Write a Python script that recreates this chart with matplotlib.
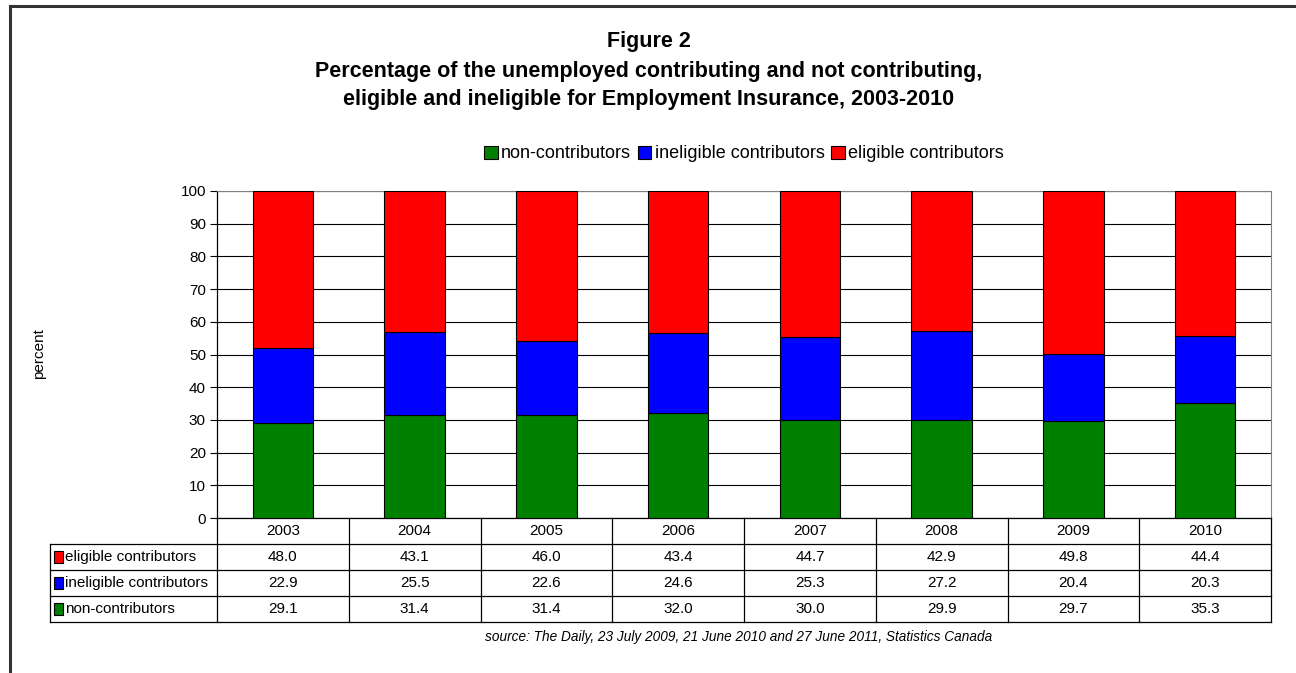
import numpy as np
import matplotlib.pyplot as plt
from matplotlib.patches import Patch
from matplotlib.lines import Line2D

plt.rcParams['font.family'] = ['Liberation Sans', 'DejaVu Sans']

# figure 2 data (percent of unemployed)
years = ['2003', '2004', '2005', '2006', '2007', '2008', '2009', '2010']
eligible = [48.0, 43.1, 46.0, 43.4, 44.7, 42.9, 49.8, 44.4]
ineligible = [22.9, 25.5, 22.6, 24.6, 25.3, 27.2, 20.4, 20.3]
non_contrib = [29.1, 31.4, 31.4, 32.0, 30.0, 29.9, 29.7, 35.3]

series_names = ['non-contributors', 'ineligible contributors', 'eligible contributors']
colors = ['#008000', '#0000FF', '#FF0000']

W, H = 1296, 673
fig = plt.figure(figsize=(W / 100, H / 100), dpi=100)

def box(x0, y0, x1, y1):
    # pixel box (top-left origin) -> figure fraction rect
    return [x0 / W, 1 - y1 / H, (x1 - x0) / W, (y1 - y0) / H]

# outer frame, top and left only
fig.add_artist(Line2D([10 / W, 10 / W], [0, 1 - 6 / H], color='#333333', lw=2.2,
                      transform=fig.transFigure))
fig.add_artist(Line2D([10 / W, 1], [1 - 6 / H, 1 - 6 / H], color='#333333', lw=2.2,
                      transform=fig.transFigure))

x = np.arange(len(years))
ax = fig.add_axes(box(217, 191, 1271, 518))
bottom = np.zeros(len(years))
for vals, c in zip([non_contrib, ineligible, eligible], colors):
    ax.bar(x, vals, width=0.46, bottom=bottom, color=c, edgecolor='black', linewidth=0.8, zorder=3)
    bottom += np.array(vals)

ax.set_xlim(-0.5, len(years) - 0.5)
ax.set_ylim(0, 100)
ax.set_yticks(np.arange(0, 101, 10))
ax.tick_params(axis='y', labelsize=11, length=5, width=0.8, pad=3)
ax.set_xticks([])
ax.grid(axis='y', color='black', linewidth=0.8, zorder=0)
for side in ['top', 'right']:
    ax.spines[side].set_color('#808080')
ax.spines['left'].set_linewidth(0.9)
ax.spines['bottom'].set_linewidth(0.9)

fig.text(39 / W, 1 - 354 / H, 'percent', rotation=90, ha='center', va='center', fontsize=11)

# data table below the chart
ncol = len(years)
left_units = (50 - 217) / ((1271 - 217) / ncol) - 0.5
tab = fig.add_axes(box(50, 518, 1271, 622))
tab.set_xlim(left_units, ncol - 0.5)
tab.set_ylim(0, 4)
tab.invert_yaxis()
tab.axis('off')

lw = 0.9
for r in range(1, 5):
    tab.plot([left_units, ncol - 0.5], [r, r], color='black', lw=lw, clip_on=False)
tab.plot([left_units, left_units], [1, 4], color='black', lw=lw, clip_on=False)
for i in range(ncol + 1):
    tab.plot([i - 0.5, i - 0.5], [0, 4], color='black', lw=lw, clip_on=False)

for i, yr in enumerate(years):
    tab.text(i, 0.5, yr, ha='center', va='center', fontsize=11)

rows = [('eligible contributors', eligible, colors[2]),
        ('ineligible contributors', ineligible, colors[1]),
        ('non-contributors', non_contrib, colors[0])]
sq = 0.072
for r, (name, vals, c) in enumerate(rows, start=1):
    tab.add_patch(plt.Rectangle((left_units + 0.028, r + 0.5 - 0.22), sq, 0.44,
                                facecolor=c, edgecolor='black', lw=0.8, clip_on=False))
    tab.text(left_units + 0.028 + sq + 0.015, r + 0.5, name, ha='left', va='center', fontsize=11)
    for i, v in enumerate(vals):
        tab.text(i, r + 0.5, f'{v:.1f}', ha='center', va='center', fontsize=11)

# titles
title_lines = ['Figure 2',
               'Percentage of the unemployed contributing and not contributing,',
               'eligible and ineligible for Employment Insurance, 2003-2010']
for y_px, line in zip([42, 71, 99], title_lines):
    fig.text(649 / W, 1 - y_px / H, line, ha='center', va='center', fontsize=15.5, fontweight='bold')

handles = [Patch(facecolor=c, edgecolor='black', linewidth=0.8) for c in colors]
fig.legend(handles, series_names, loc='center', bbox_to_anchor=(744 / W, 1 - 154 / H),
           ncol=3, frameon=False, fontsize=13, handlelength=0.75, handleheight=0.75,
           handletextpad=0.2, columnspacing=0.35)

fig.text(739 / W, 1 - 637 / H,
         'source: The Daily, 23 July 2009, 21 June 2010 and 27 June 2011, Statistics Canada',
         ha='center', va='center', fontsize=9.8, style='italic')

fig.savefig('out.png', dpi=100)
